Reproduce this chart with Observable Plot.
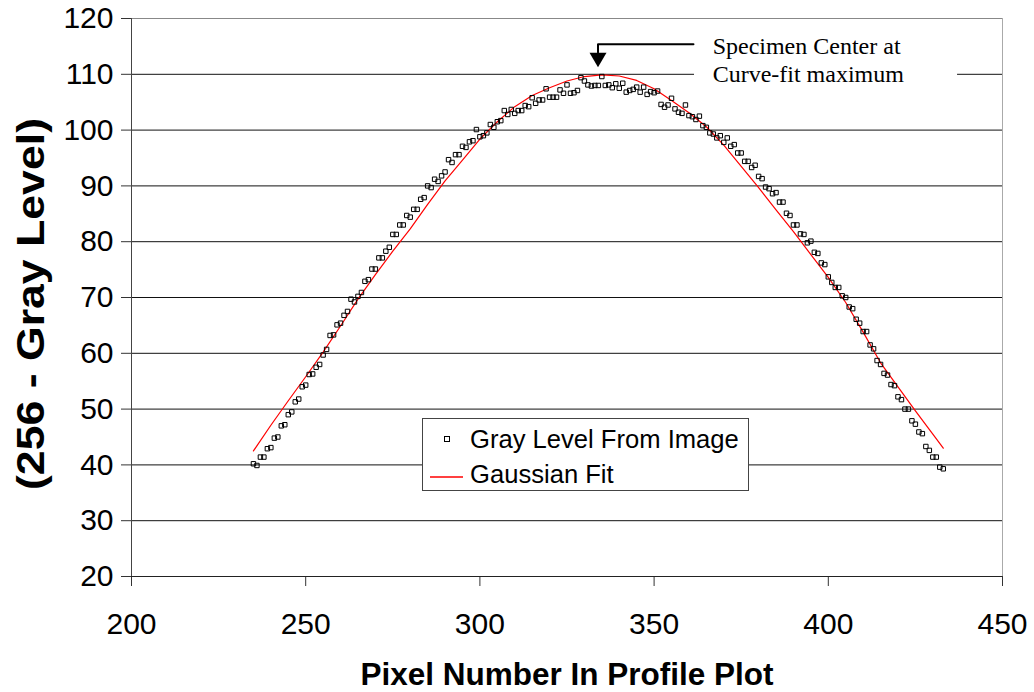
<!DOCTYPE html>
<html>
<head>
<meta charset="utf-8">
<script src="https://cdn.jsdelivr.net/npm/d3@7"></script>
<script src="https://cdn.jsdelivr.net/npm/@observablehq/plot@0.6"></script>
<style>
  html, body { margin: 0; padding: 0; background: #fff; }
  #wrap { position: relative; width: 1034px; height: 692px; font-family: "Liberation Sans", Arial, sans-serif; }
  #legend { position: absolute; left: 422px; top: 418px; width: 327px; height: 73px; border: 1.3px solid #444; background: #fff; box-sizing: border-box; }
  #legend .row { position: absolute; left: 0; height: 30px; font-size: 25.6px; color: #000; white-space: nowrap; }
  #legend .swatch { position: absolute; }
  #legend .label { position: absolute; left: 47px; line-height: 30px; top: 0; }
</style>
</head>
<body>
<div id="wrap">
  <div id="chart"></div>
  <div id="legend"></div>
</div>
<script>
// Profile across the specimen: pixel number and (256 - gray level)
const pixels = [
  235, 236, 237, 238, 239, 240, 241, 242, 243, 244,
  245, 246, 247, 248, 249, 250, 251, 252, 253, 254,
  255, 256, 257, 258, 259, 260, 261, 262, 263, 264,
  265, 266, 267, 268, 269, 270, 271, 272, 273, 274,
  275, 276, 277, 278, 279, 280, 281, 282, 283, 284,
  285, 286, 287, 288, 289, 290, 291, 292, 293, 294,
  295, 296, 297, 298, 299, 300, 301, 302, 303, 304,
  305, 306, 307, 308, 309, 310, 311, 312, 313, 314,
  315, 316, 317, 318, 319, 320, 321, 322, 323, 324,
  325, 326, 327, 328, 329, 330, 331, 332, 333, 334,
  335, 336, 337, 338, 339, 340, 341, 342, 343, 344,
  345, 346, 347, 348, 349, 350, 351, 352, 353, 354,
  355, 356, 357, 358, 359, 360, 361, 362, 363, 364,
  365, 366, 367, 368, 369, 370, 371, 372, 373, 374,
  375, 376, 377, 378, 379, 380, 381, 382, 383, 384,
  385, 386, 387, 388, 389, 390, 391, 392, 393, 394,
  395, 396, 397, 398, 399, 400, 401, 402, 403, 404,
  405, 406, 407, 408, 409, 410, 411, 412, 413, 414,
  415, 416, 417, 418, 419, 420, 421, 422, 423, 424,
  425, 426, 427, 428, 429, 430, 431, 432, 433
];
const grayLevels = [
  40.2, 39.9, 41.4, 41.4, 42.9, 43.1, 44.8, 45.0, 47.0, 47.2,
  49.0, 49.5, 51.3, 51.8, 54.0, 54.3, 56.2, 56.3, 57.5, 58.0,
  59.7, 60.7, 63.2, 63.3, 65.1, 65.4, 66.8, 67.5, 69.7, 69.2,
  70.2, 70.9, 72.9, 73.2, 75.1, 75.1, 77.1, 77.1, 78.3, 79.0,
  81.3, 81.3, 83.0, 83.0, 84.7, 84.4, 85.8, 85.8, 87.6, 87.9,
  90.0, 89.7, 91.2, 90.8, 91.8, 92.5, 94.7, 94.2, 95.6, 95.6,
  97.1, 96.9, 97.9, 98.1, 100.1, 98.8, 99.0, 99.5, 101.0, 100.5,
  101.5, 101.7, 103.5, 102.8, 103.7, 103.0, 103.5, 103.5, 104.4, 104.2,
  105.8, 104.8, 105.4, 105.4, 107.4, 105.9, 105.9, 105.9, 107.2, 106.6,
  108.1, 106.6, 106.7, 107.1, 109.4, 108.8, 108.1, 107.9, 108.0, 108.0,
  109.6, 108.0, 108.1, 107.6, 108.3, 107.5, 108.4, 106.8, 107.1, 107.3,
  107.7, 106.8, 107.7, 106.4, 106.9, 106.7, 107.0, 104.6, 104.1, 104.5,
  105.7, 103.8, 103.2, 103.0, 104.5, 102.6, 102.4, 101.9, 102.5, 100.8,
  100.5, 99.5, 99.3, 98.6, 99.0, 97.8, 98.6, 97.1, 97.4, 95.9,
  95.9, 94.4, 94.4, 93.3, 93.7, 91.7, 91.3, 89.8, 89.5, 88.6,
  88.8, 87.1, 87.1, 85.1, 84.7, 83.0, 83.0, 81.4, 81.3, 79.8,
  80.1, 78.1, 77.9, 76.2, 75.9, 73.7, 72.7, 71.8, 71.8, 70.3,
  70.0, 68.3, 68.0, 66.1, 65.4, 63.9, 63.9, 61.5, 60.8, 58.7,
  58.0, 56.4, 56.1, 54.4, 54.2, 52.2, 51.7, 50.0, 50.0, 47.9,
  47.3, 45.9, 45.6, 43.3, 42.6, 41.4, 41.4, 39.6, 39.3
];

// Gaussian fit curve, sampled along the profile
const fitPixels = [235, 240, 245, 250, 255, 260, 265, 270, 275, 280, 285, 290, 295, 300, 305, 310, 315, 320, 325, 330,
                   335, 340, 345, 350, 355, 360, 365, 370, 375, 380, 385, 390, 395, 400, 405, 410, 415, 420, 425, 430, 433];
const fitLevels = [42.5, 47.1, 51.5, 55.8, 60.2, 64.9, 69.7, 74.1, 78.3, 82.3, 86.7, 90.9, 94.6, 98.4, 101.5, 104.2, 106.2, 107.6, 108.8, 109.6,
                   109.9, 109.7, 108.9, 107.4, 105.3, 103.1, 100.6, 97.3, 93.5, 89.7, 85.7, 81.8, 77.7, 73.6, 69.1, 63.8, 58.3, 54.0, 49.7, 45.5, 43.0];

const xTicks = [200, 250, 300, 350, 400, 450];
const yTicks = [20, 30, 40, 50, 60, 70, 80, 90, 100, 110, 120];
const xTitle = "Pixel Number In Profile Plot";
const yTitle = "(256 - Gray Level)";
const seriesNames = ["Gray Level From Image", "Gaussian Fit"];

// Note pointing at the fitted maximum
const noteLines = ["Specimen Center at", "Curve-fit maximum"];
const notePeakPixel = [333.9];

// Layout of the note, in data units
const noteLayout = {
  textX: 366.8, textY: 112.8,
  elbowY: 115.4, lineStartX: 361.3, stemEndY: 113.9, headY: 113.0,
  boxX1: 361.6, boxX2: 437.1, boxY1: 107.6, boxY2: 117.8
};

const points = pixels.map((p, i) => ({pixel: p, level: grayLevels[i]}));
const fit = fitPixels.map((p, i) => ({pixel: p, level: fitLevels[i]}));
const px = notePeakPixel[0];

const chart = Plot.plot({
  width: 1034,
  height: 692,
  marginLeft: 131,
  marginRight: 32,
  marginTop: 18,
  marginBottom: 116,
  x: {domain: [200, 450]},
  y: {domain: [20, 120]},
  style: {fontFamily: "'Liberation Sans', Arial, sans-serif", background: "#fff", color: "#000", overflow: "visible"},
  marks: [
    Plot.gridY(yTicks.slice(1, -1), {stroke: "#111", strokeOpacity: 1, strokeWidth: 1}),
    Plot.ruleY([yTicks[yTicks.length - 1]], {stroke: "#888"}),
    Plot.ruleX([xTicks[xTicks.length - 1]], {stroke: "#aaa"}),
    Plot.axisY(yTicks, {tickSize: 10, tickPadding: 8, fontSize: 30, label: null, stroke: "#333"}),
    Plot.axisX(xTicks, {tickSize: 10, tickPadding: 26, fontSize: 30, label: null, stroke: "#333"}),
    Plot.ruleY([yTicks[0]], {stroke: "#222"}),
    Plot.ruleX([xTicks[0]], {stroke: "#444"}),
    Plot.text([xTitle], {frameAnchor: "bottom", dy: 98, text: d => d, fontSize: 31.5, fontWeight: "bold", lineAnchor: "middle"}),
    // white panel behind the note
    Plot.rect([0], {x1: noteLayout.boxX1, x2: noteLayout.boxX2, y1: noteLayout.boxY1, y2: noteLayout.boxY2, fill: "#fff"}),
    Plot.line(fit, {x: "pixel", y: "level", stroke: "#ff0000", strokeWidth: 1.2}),
    Plot.dot(points, {x: "pixel", y: "level", symbol: "square", r: 2.5, stroke: "#000", fill: "none", strokeWidth: 1}),
    // arrow to the fitted maximum
    Plot.line([[noteLayout.lineStartX, noteLayout.elbowY], [px, noteLayout.elbowY], [px, noteLayout.stemEndY]],
      {stroke: "#000", strokeWidth: 2}),
    Plot.dot([[px, noteLayout.headY]], {symbol: "triangle", r: 6.3, rotate: 180, fill: "#000", stroke: "none"}),
    Plot.text([noteLines.join("\n")], {x: noteLayout.textX, y: noteLayout.textY, text: d => d, textAnchor: "start",
      lineAnchor: "middle", lineHeight: 1.2, fontFamily: "'Liberation Serif', 'Times New Roman', serif", fontSize: 24, fill: "#000"})
  ]
});
document.getElementById("chart").append(chart);

// Rotated y-axis title, centred on the plot frame
d3.select(chart).append("text")
  .attr("transform", "translate(31,304) rotate(-90)")
  .attr("text-anchor", "middle")
  .attr("dy", "0.35em")
  .attr("font-family", "'Liberation Sans', Arial, sans-serif")
  .attr("font-weight", "bold")
  .attr("font-size", 38)
  .attr("textLength", 372)
  .attr("lengthAdjust", "spacingAndGlyphs")
  .attr("fill", "#000")
  .text(yTitle);

// Legend box inside the plot area
const legend = d3.select("#legend");
const row1 = legend.append("div").attr("class", "row").style("top", "5px").style("width", "100%");
row1.append("svg").attr("class", "swatch").attr("width", 10).attr("height", 10).style("left", "19px").style("top", "10px")
  .append("rect").attr("x", 2.5).attr("y", 2.5).attr("width", 5).attr("height", 5).attr("fill", "none").attr("stroke", "#000").attr("stroke-width", 1);
row1.append("span").attr("class", "label").text(seriesNames[0]);
const row2 = legend.append("div").attr("class", "row").style("top", "40px").style("width", "100%");
row2.append("svg").attr("class", "swatch").attr("width", 36).attr("height", 6).style("left", "7px").style("top", "15px")
  .append("line").attr("x1", 0).attr("x2", 33).attr("y1", 3).attr("y2", 3).attr("stroke", "#ff0000").attr("stroke-width", 1.3);
row2.append("span").attr("class", "label").text(seriesNames[1]);
</script>
</body>
</html>
